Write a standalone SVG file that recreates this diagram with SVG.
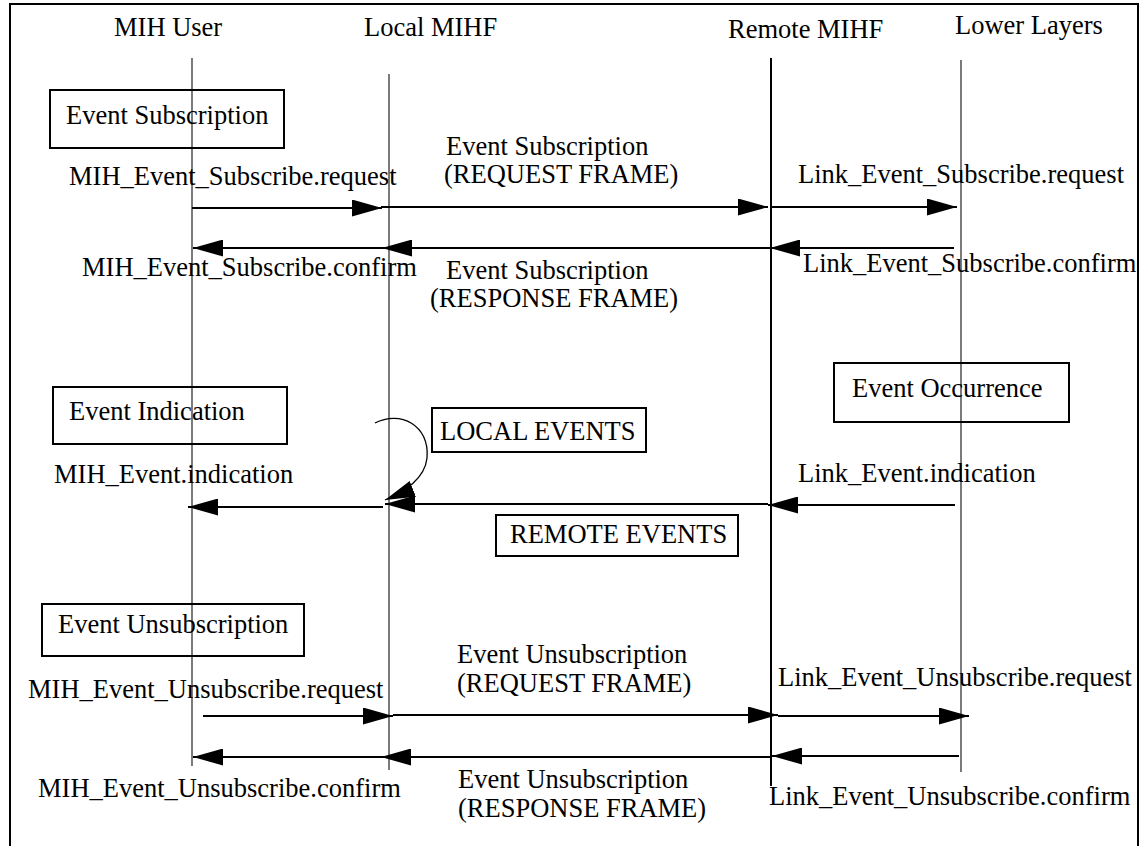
<svg xmlns="http://www.w3.org/2000/svg" width="1143" height="846" viewBox="0 0 1143 846">
  <style>
    text { font-family: "Liberation Serif", "Times New Roman", serif; font-size: 26.5px; fill: #000; }
    .frame { fill: none; stroke: #000; stroke-width: 2; }
    .box { fill: #fff; fill-opacity: 0; stroke: #000; stroke-width: 2; }
    .life { stroke: #333; stroke-width: 1.3; }
    .life-strong { stroke: #000; stroke-width: 2; }
    .msg { stroke: #000; stroke-width: 2; fill: none; marker-end: url(#head); }
    .loop { stroke: #000; stroke-width: 1.3; fill: none; marker-end: url(#head); }
  </style>
  <defs>
    <marker id="head" viewBox="0 0 30 17" refX="30" refY="8.5" markerWidth="30" markerHeight="17" markerUnits="userSpaceOnUse" orient="auto">
      <path d="M0,0 L30,8.5 L0,17 Z" fill="#000"/>
    </marker>
  </defs>

  <rect width="1143" height="846" fill="#fff"/>
  <rect class="frame" x="10" y="4" width="1128" height="850"/>

  <!-- participants -->
  <g id="mih-user">
    <text x="114" y="36">MIH User</text>
    <line class="life" x1="192" y1="58" x2="192" y2="766"/>
  </g>
  <g id="local-mihf">
    <text x="364" y="36">Local MIHF</text>
    <line class="life" x1="389" y1="74" x2="389" y2="770"/>
  </g>
  <g id="remote-mihf">
    <text x="728" y="38">Remote MIHF</text>
    <line class="life-strong" x1="771" y1="58" x2="771" y2="786"/>
  </g>
  <g id="lower-layers">
    <text x="955" y="34">Lower Layers</text>
    <line class="life" x1="961" y1="60" x2="961" y2="772"/>
  </g>

  <!-- phase labels -->
  <g id="event-subscription-box">
    <rect class="box" x="50" y="90" width="234" height="58"/>
    <text x="66" y="124">Event Subscription</text>
  </g>
  <g id="event-occurrence-box">
    <rect class="box" x="834" y="363" width="235" height="59"/>
    <text x="852" y="397">Event Occurrence</text>
  </g>
  <g id="event-indication-box">
    <rect class="box" x="53" y="387" width="234" height="57"/>
    <text x="69" y="420">Event Indication</text>
  </g>
  <g id="local-events-box">
    <rect class="box" x="432" y="408" width="214" height="44"/>
    <text x="440" y="440">LOCAL EVENTS</text>
  </g>
  <g id="remote-events-box">
    <rect class="box" x="496" y="515" width="242" height="41"/>
    <text x="510" y="543">REMOTE EVENTS</text>
  </g>
  <g id="event-unsubscription-box">
    <rect class="box" x="42" y="604" width="262" height="52"/>
    <text x="58" y="633">Event Unsubscription</text>
  </g>

  <!-- message connectors -->
  <g id="connectors">
    <!-- subscription -->
    <line class="msg" x1="192" y1="208" x2="382" y2="208"/>
    <line class="msg" x1="381" y1="207" x2="768" y2="207"/>
    <line class="msg" x1="771" y1="207" x2="957" y2="207"/>
    <line class="msg" x1="954" y1="248" x2="770" y2="248"/>
    <line class="msg" x1="771" y1="248" x2="382" y2="248"/>
    <line class="msg" x1="382" y1="248" x2="193" y2="248"/>
    <!-- indication -->
    <line class="msg" x1="955" y1="505" x2="768" y2="505"/>
    <line class="msg" x1="768" y1="504" x2="385" y2="504"/>
    <line class="msg" x1="383" y1="507" x2="188" y2="507"/>
    <path class="loop" d="M375,423 C400,410 430,425 427,458 C425,478 405,492 385,500"/>
    <!-- unsubscription -->
    <line class="msg" x1="203" y1="716" x2="393" y2="716"/>
    <line class="msg" x1="393" y1="715" x2="778" y2="715"/>
    <line class="msg" x1="778" y1="716" x2="969" y2="716"/>
    <line class="msg" x1="959" y1="756" x2="772" y2="756"/>
    <line class="msg" x1="771" y1="757" x2="381" y2="757"/>
    <line class="msg" x1="388" y1="757" x2="193" y2="757"/>
  </g>

  <!-- message labels -->
  <g id="labels">
    <text x="69" y="185">MIH_Event_Subscribe.request</text>
    <text x="446" y="155">Event Subscription</text>
    <text x="444" y="183">(REQUEST FRAME)</text>
    <text x="798" y="183">Link_Event_Subscribe.request</text>
    <text x="82" y="276">MIH_Event_Subscribe.confirm</text>
    <text x="446" y="279">Event Subscription</text>
    <text x="430" y="307">(RESPONSE FRAME)</text>
    <text x="803" y="272">Link_Event_Subscribe.confirm</text>

    <text x="54" y="483">MIH_Event.indication</text>
    <text x="798" y="482">Link_Event.indication</text>

    <text x="457" y="663">Event Unsubscription</text>
    <text x="457" y="692">(REQUEST FRAME)</text>
    <text x="28" y="698">MIH_Event_Unsubscribe.request</text>
    <text x="778" y="686">Link_Event_Unsubscribe.request</text>
    <text x="38" y="797">MIH_Event_Unsubscribe.confirm</text>
    <text x="458" y="788">Event Unsubscription</text>
    <text x="458" y="817">(RESPONSE FRAME)</text>
    <text x="769" y="805">Link_Event_Unsubscribe.confirm</text>
  </g>
</svg>
